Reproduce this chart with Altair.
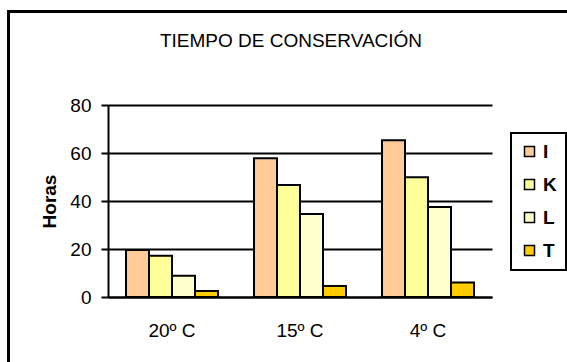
import altair as alt
import pandas as pd

FONT = "Liberation Sans"

CHART_TITLE = "TIEMPO DE CONSERVACIÓN"
CATEGORIES = ["20º C", "15º C", "4º C"]
SERIES = ["I", "K", "L", "T"]
I_VALUES = [19.6, 57.8, 65.3]
K_VALUES = [17.2, 46.7, 49.9]
L_VALUES = [8.9, 34.6, 37.5]
T_VALUES = [2.5, 4.6, 6.0]
COLORS = ["#FFCC99", "#FFFF99", "#FFFFCC", "#FFCC00"]
Y_TICKS = [0, 20, 40, 60, 80]

series_values = {"I": I_VALUES, "K": K_VALUES, "L": L_VALUES, "T": T_VALUES}
rows = []
for s in SERIES:
    for cat, v in zip(CATEGORIES, series_values[s]):
        rows.append({"Temp": cat, "Serie": s, "Horas": v})
df = pd.DataFrame(rows)
single = pd.DataFrame({"k": [0]})

# outer frame around the whole figure
frame = alt.Chart(single).mark_rect(
    fillOpacity=0, stroke="black", strokeWidth=3
).encode(
    x=alt.value(-99.5), x2=alt.value(480),
    y=alt.value(-93.5), y2=alt.value(280),
)

heading = alt.Chart(single).mark_text(
    text=CHART_TITLE, font=FONT, fontSize=19, color="black",
    align="center", baseline="alphabetic",
).encode(x=alt.value(183), y=alt.value(-58))

bars = alt.Chart(df).mark_bar(stroke="black", strokeWidth=2).encode(
    x=alt.X(
        "Temp:N", sort=CATEGORIES,
        scale=alt.Scale(paddingInner=0.28125, paddingOuter=0.140625),
        axis=alt.Axis(
            title=None, labelFont=FONT, labelFontSize=19, labelColor="black",
            labelAngle=0, labelPadding=24, tickSize=0, grid=False,
            domainColor="black", domainWidth=2,
        ),
    ),
    xOffset=alt.XOffset(
        "Serie:N", sort=SERIES,
        scale=alt.Scale(paddingInner=0, paddingOuter=0),
    ),
    y=alt.Y(
        "Horas:Q",
        scale=alt.Scale(domain=[0, 80], nice=False),
        axis=alt.Axis(
            values=Y_TICKS, title="Horas",
            titleFont=FONT, titleFontSize=19, titleFontWeight="bold",
            titleColor="black", titleAngle=-90, titleAlign="center",
            titleBaseline="alphabetic", titleX=-53, titleY=96,
            labelFont=FONT, labelFontSize=19, labelColor="black",
            labelPadding=10, tickSize=7, tickColor="black", tickWidth=2,
            domainColor="black", domainWidth=2,
            grid=True, gridColor="black", gridWidth=2, gridOpacity=1,
        ),
    ),
    color=alt.Color(
        "Serie:N", sort=SERIES,
        scale=alt.Scale(domain=SERIES, range=COLORS),
        legend=alt.Legend(
            title=None, orient="none", legendX=403, legendY=28,
            symbolType="square", symbolSize=100,
            symbolStrokeColor="black", symbolStrokeWidth=1.5,
            symbolOpacity=1,
            labelFont=FONT, labelFontSize=19, labelFontWeight="bold",
            labelColor="black", labelOffset=4,
            padding=9, rowPadding=13, strokeColor="black",
        ),
    ),
)

chart = alt.layer(frame, heading, bars).properties(
    width=384, height=192,
    autosize=alt.AutoSizeParams(type="none"),
    padding={"left": 108, "top": 105, "right": 75, "bottom": 65},
    background="white",
).configure_view(strokeWidth=0).configure_legend(strokeWidth=2)

chart.save("out.html", embed_options={"renderer": "svg", "actions": False})
